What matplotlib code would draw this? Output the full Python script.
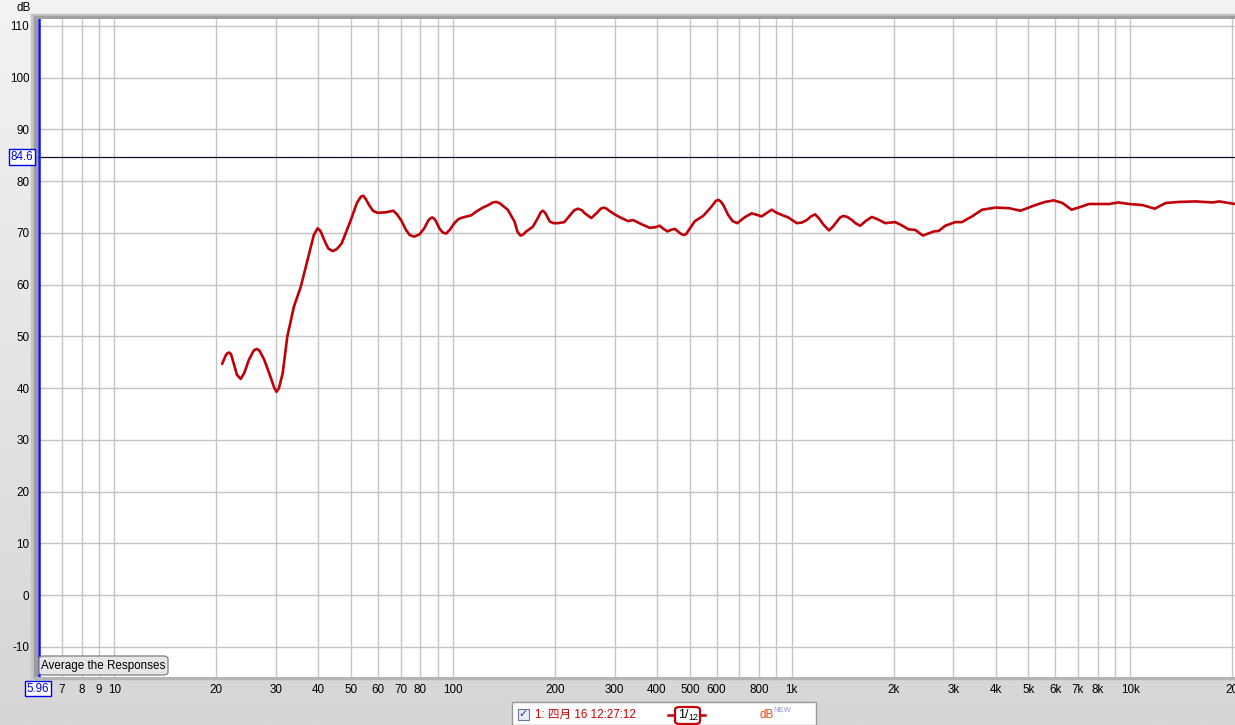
import numpy as np
import matplotlib
matplotlib.use("Agg")
import matplotlib.pyplot as plt
from matplotlib.patches import Rectangle, FancyBboxPatch
from matplotlib.lines import Line2D
from matplotlib.colors import LinearSegmentedColormap

plt.rcParams['font.family'] = ['Liberation Sans', 'Noto Sans CJK SC', 'DejaVu Sans']

# ---------------- data ----------------
freq = [20.8, 21.3, 21.5, 21.8, 22.1, 22.5, 23.0, 23.6, 24.2, 24.95, 25.8, 26.3, 26.8, 27.7, 28.9,
        29.6, 30.1, 30.6, 31.4, 32.4, 33.9, 35.5, 37.6, 38.8, 39.8, 40.6, 41.6, 42.8, 44.1, 45.4,
        46.9, 49.9, 52.0, 53.4, 54.3, 55.2, 56.5, 58.0, 59.8, 63.4, 66.6, 68.3, 70.2, 72.6, 74.5,
        76.8, 79.5, 82.2, 84.5, 85.6, 86.7, 87.8, 88.8, 91.1, 93.2, 95.4, 97.8, 100.9, 103.8,
        106.8, 113, 117.5, 122.4, 128, 131, 134, 137, 139.5, 145, 151.9, 155, 158.2, 161, 164.5,
        172, 178, 181.5, 184, 186.5, 188.5, 193, 198, 204, 213, 222, 228, 233.8, 240, 245, 256,
        267, 273, 278.5, 284, 289, 300, 314, 328.8, 340, 360, 381, 395, 407.7, 418, 429.7, 440,
        451.6, 465, 472, 480, 488, 498, 518, 547.8, 578, 597, 607, 617, 627, 649, 669, 690.8, 725,
        761.7, 790, 815, 845, 873, 903, 934, 977, 1035, 1070, 1108, 1140, 1172, 1205, 1241,
        1289.6, 1322, 1359, 1390, 1422, 1460, 1505, 1550, 1593, 1660, 1725, 1800, 1888, 2021,
        2110, 2214, 2317, 2380, 2441, 2530, 2625, 2717, 2841, 3041, 3184, 3300, 3408, 3649, 3996,
        4377, 4737, 5246, 5600, 5946, 6300, 6704, 7100, 7548, 8650, 9216, 9913, 10852, 11800,
        12722, 13930, 15600, 17480, 18300, 20370]
spl = [44.7, 46.3, 46.7, 46.9, 46.6, 44.8, 42.6, 41.8, 43.0, 45.5, 47.3, 47.6, 47.3, 45.5, 42.2,
       40.2, 39.3, 40.0, 42.9, 50.0, 55.8, 59.6, 66.1, 69.6, 70.9, 70.4, 68.7, 67.0, 66.5, 66.9,
       68.0, 72.5, 75.8, 77.0, 77.2, 76.6, 75.4, 74.3, 73.9, 74.0, 74.3, 73.6, 72.5, 70.6, 69.6,
       69.3, 69.7, 70.9, 72.4, 72.8, 73.0, 72.8, 72.4, 70.9, 70.1, 69.9, 70.6, 71.9, 72.7,
       73.0, 73.4, 74.2, 74.9, 75.5, 75.9, 76.0, 75.8, 75.4, 74.5, 72.2, 70.2, 69.5, 69.7, 70.3,
       71.2, 72.9, 74.0, 74.3, 74.0, 73.5, 72.2, 71.9, 71.9, 72.1, 73.5, 74.4, 74.7, 74.4, 73.8, 72.9,
       74.0, 74.7, 74.9, 74.7, 74.3, 73.6, 72.9, 72.3, 72.5, 71.7, 71.0, 71.1, 71.4, 70.8, 70.3, 70.6,
       70.8, 70.1, 69.8, 69.6, 69.8, 70.7, 72.3, 73.3, 75.0, 76.2, 76.4, 76.1, 75.5, 73.5, 72.3, 71.9, 73.0,
       73.8, 73.5, 73.2, 73.9, 74.5, 73.9, 73.5, 73.0, 71.9, 72.0, 72.5, 73.2, 73.6, 72.8, 71.6,
       70.5, 71.2, 72.2, 73.0, 73.3, 73.1, 72.5, 71.8, 71.4, 72.4, 73.1, 72.6, 71.9, 72.1,
       71.5, 70.7, 70.6, 70.0, 69.5, 69.9, 70.3, 70.4, 71.4, 72.1, 72.1, 72.7, 73.2, 74.5, 74.9,
       74.8, 74.3, 75.4, 76.0, 76.3, 75.8, 74.5, 75.0, 75.6, 75.6, 75.9, 75.6, 75.4, 74.7,
       75.8, 76.0, 76.1, 75.9, 76.1, 75.6]

xtick_vals = [7, 8, 9, 10, 20, 30, 40, 50, 60, 70, 80, 100, 200, 300, 400, 500, 600, 800,
              1000, 2000, 3000, 4000, 5000, 6000, 7000, 8000, 10000, 20000]
xtick_labels = ['7', '8', '9', '10', '20', '30', '40', '50', '60', '70', '80', '100', '200', '300',
                '400', '500', '600', '800', '1k', '2k', '3k', '4k', '5k', '6k', '7k', '8k', '10k', '20']
ytick_vals = [-10, 0, 10, 20, 30, 40, 50, 60, 70, 80, 90, 100, 110]
cursor_level = 84.6
cursor_freq = 5.96
legend_text = '1: 四月 16 12:27:12'

# ---------------- figure ----------------
W, H = 1235, 725
fig = plt.figure(figsize=(W / 100, H / 100), dpi=100)


def fx(px):
    return px / W


def fy(py):
    return 1 - py / H


# gradient background
bg = fig.add_axes([0, 0, 1, 1], zorder=-10)
grad = np.linspace(0, 1, 256).reshape(-1, 1)
cmap = LinearSegmentedColormap.from_list('bg', ['#f3f3f3', '#d6d6d6'])
bg.imshow(grad, aspect='auto', cmap=cmap, extent=[0, 1, 0, 1], origin='upper')
bg.set_axis_off()

# plot-area shadows (bevel)
def frect(x0, y0, x1, y1, color):
    fig.patches.append(Rectangle((fx(x0), fy(y1)), fx(x1 - x0), (y1 - y0) / H,
                                 transform=fig.transFigure, color=color, zorder=-5))

frect(31, 14, 34, 678, '#c6c6c6')
frect(34, 16, 38.5, 678, '#9c9c9c')
frect(31, 14, W, 16, '#c6c6c6')
frect(34, 16, W, 19.5, '#a0a0a0')
frect(34, 676.5, W, 679, '#b4b4b4')

ax = fig.add_axes([fx(38.3), fy(676.7), 1 - fx(38.3), (676.7 - 19) / H])
ax.set_facecolor('white')
ax.set_xscale('log')
ax.set_xlim(cursor_freq, 20370)
ax.set_ylim(-15.74, 111.35)

# grid
minor = []
for dec in [1, 10, 100, 1000, 10000]:
    for m in range(1, 10):
        minor.append(m * dec)
for v in minor:
    if cursor_freq < v < 20370:
        ax.axvline(v, color='#c4c4c4', lw=1.0, zorder=1)
for v in ytick_vals:
    ax.axhline(v, color='#c4c4c4', lw=1.0, zorder=1)

ax.set_xticks(xtick_vals)
ax.set_xticklabels(xtick_labels)
ax.xaxis.set_minor_locator(matplotlib.ticker.NullLocator())
ax.set_yticks(ytick_vals)
ax.set_yticklabels([str(v) for v in ytick_vals])
ax.tick_params(axis='both', length=0, labelsize=8.4, colors='black')
ax.tick_params(axis='y', pad=6.5)
ax.tick_params(axis='x', pad=5)
for s in ax.spines.values():
    s.set_visible(False)

# cursors
ax.axhline(cursor_level, color='#10102a', lw=0.9, zorder=3)
ax.axvline(cursor_freq * 1.004, color='#1010ff', lw=1.8, zorder=3)

# curve
ax.plot(freq, spl, color='#c00008', lw=1.9, zorder=5, solid_joinstyle='round',
        solid_capstyle='round')

# cursor value boxes
fig.text(fx(22), fy(157), f'{cursor_level}', color='#0000ee', fontsize=8.4,
         ha='center', va='center',
         bbox=dict(boxstyle='square,pad=0.15', fc='white', ec='#0000ee', lw=1))
fig.text(fx(38), fy(688.5), f'{cursor_freq}', color='#0000ee', fontsize=8.4,
         ha='center', va='center',
         bbox=dict(boxstyle='square,pad=0.15', fc='white', ec='#0000ee', lw=1))

fig.text(fx(24), fy(8), 'dB', fontsize=8.4, ha='center', va='center')

# "Average the Responses" button
btn = FancyBboxPatch((fx(39), fy(675)), fx(129), 19 / H,
                     boxstyle='round,pad=0,rounding_size=0.004',
                     transform=fig.transFigure, fc='#e6e6e6', ec='#8a8a8a', lw=1, zorder=10)
fig.patches.append(btn)
fig.text(fx(103), fy(665.5), 'Average the Responses', fontsize=8.4, ha='center', va='center',
         zorder=11)

# bottom legend box
fig.patches.append(Rectangle((fx(512), fy(725)), fx(304), 23 / H, transform=fig.transFigure,
                             fc='white', ec='#9a9a9a', lw=1, zorder=10))
fig.patches.append(Rectangle((fx(518), fy(720)), fx(11), 11 / H, transform=fig.transFigure,
                             fc='#e8ecf4', ec='#6a7a9a', lw=0.8, zorder=11))
fig.text(fx(523.5), fy(714.5), '✓', color='#2040a0', fontsize=8, ha='center', va='center',
         family=['DejaVu Sans'], fontweight='bold', zorder=12)
fig.text(fx(535), fy(714.5), legend_text, color='#cc0000', fontsize=8.4, ha='left', va='center',
         family=['Liberation Sans', 'Noto Sans CJK SC'], zorder=11)
fig.lines.append(Line2D([fx(668), fx(705)], [fy(715), fy(715)], transform=fig.transFigure,
                        color='#c00008', lw=1.8, zorder=11))
fig.patches.append(FancyBboxPatch((fx(675), fy(724)), fx(25), 17 / H,
                                  boxstyle='round,pad=0,rounding_size=0.004',
                                  transform=fig.transFigure, fc='white', ec='#c00008', lw=1.6,
                                  zorder=12))
fig.text(fx(683.5), fy(714.5), '1/', color='black', fontsize=9, ha='center', va='center',
         zorder=13)
fig.text(fx(693), fy(718), '12', color='black', fontsize=6.5, ha='center', va='center',
         zorder=13)
fig.text(fx(760), fy(714.5), 'dB', color='#e05010', fontsize=8.4, ha='left', va='center',
         zorder=11)
fig.text(fx(773), fy(711), 'NEW', color='#9090e0', fontsize=5.5, ha='left', va='center',
         zorder=11)

fig.savefig('out.png', dpi=100)
